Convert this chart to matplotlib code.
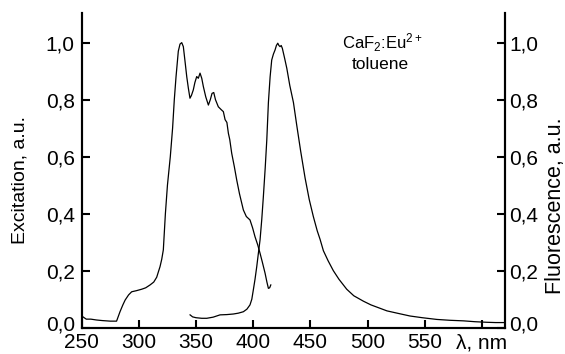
import matplotlib
matplotlib.use("Agg")
import matplotlib.pyplot as plt
from matplotlib.transforms import ScaledTranslation

plt.rcParams['font.family'] = ['Liberation Sans', 'DejaVu Sans']
plt.rcParams['mathtext.fontset'] = 'custom'
plt.rcParams['mathtext.rm'] = 'Liberation Sans'
plt.rcParams['mathtext.it'] = 'Liberation Sans'

# Excitation spectrum (wavelength nm, intensity a.u.)
exc_wl = [250, 254, 258, 263, 268, 275, 280.5, 283.5, 286, 288, 291, 293.7, 298,
          302.5, 306, 309.8, 313, 315.6, 317, 318.5, 320, 321.4, 323.2, 325, 327.5,
          329.5, 331, 332.5, 334.5, 336, 337.5, 338.9, 340.5, 341.9, 343.3, 344.7,
          346, 347.6, 349, 350.6, 352, 353.5, 355, 356.4, 358.5, 360.8, 362.5, 364,
          365.5, 367, 369.5, 372, 373.9, 375.4, 377, 378.3, 379.5, 381.2, 383.5,
          385.6, 388, 391.4, 394, 397.2, 399.5, 401.6, 404, 406, 408, 410.4, 412,
          413.3, 414.4, 415.4]
exc_val = [0.041, 0.030, 0.030, 0.027, 0.025, 0.023, 0.023, 0.056, 0.080, 0.097,
           0.115, 0.126, 0.130, 0.135, 0.140, 0.150, 0.160, 0.177, 0.195, 0.214,
           0.240, 0.273, 0.400, 0.500, 0.600, 0.700, 0.800, 0.880, 0.970, 0.995,
           1.000, 0.986, 0.930, 0.880, 0.840, 0.805, 0.815, 0.834, 0.860, 0.881,
           0.875, 0.893, 0.875, 0.846, 0.810, 0.781, 0.800, 0.822, 0.825, 0.800,
           0.775, 0.765, 0.758, 0.730, 0.720, 0.682, 0.660, 0.612, 0.565, 0.518,
           0.470, 0.413, 0.390, 0.378, 0.350, 0.319, 0.290, 0.261, 0.230, 0.191,
           0.160, 0.138, 0.140, 0.150]

# Fluorescence spectrum (wavelength nm, intensity a.u.)
flu_wl = [344.8, 347, 350, 355, 359.4, 365, 371, 377, 382.6, 387, 391.4, 394.5,
          397.2, 398.8, 400.1, 401.6, 403.1, 404.5, 406, 407.5, 408.9, 410.5, 411.9,
          413.3, 414.8, 416.2, 417.7, 419.1, 420.3, 421.5, 422.5, 423.5, 424.5,
          425.5, 427.5, 429.4, 432, 435.2, 438.1, 441.5, 445.4, 449, 452.6, 456,
          458.5, 461.4, 465.5, 470.1, 475, 481.8, 488, 496.4, 503, 511, 517, 527,
          537.2, 548, 560.6, 572, 584, 594, 604.4, 612, 619]
flu_val = [0.045, 0.038, 0.035, 0.033, 0.033, 0.037, 0.045, 0.046, 0.048, 0.051,
           0.056, 0.065, 0.080, 0.100, 0.132, 0.170, 0.214, 0.260, 0.308, 0.380,
           0.460, 0.560, 0.659, 0.790, 0.880, 0.939, 0.960, 0.974, 0.990, 0.998,
           0.990, 0.986, 0.990, 0.980, 0.945, 0.910, 0.850, 0.790, 0.710, 0.620,
           0.525, 0.450, 0.390, 0.340, 0.310, 0.270, 0.235, 0.200, 0.170, 0.135,
           0.112, 0.093, 0.080, 0.068, 0.059, 0.050, 0.041, 0.035, 0.029, 0.026,
           0.024, 0.021, 0.019, 0.018, 0.018]

x_ticks = [250, 300, 350, 400, 450, 500, 550, 600]
x_tick_labels = ['250', '300', '350', '400', '450', '500', '550', 'λ, nm']
y_ticks = [0.0, 0.2, 0.4, 0.6, 0.8, 1.0]
y_tick_labels = ['0,0', '0,2', '0,4', '0,6', '0,8', '1,0']

fig = plt.figure(figsize=(5.65, 3.54), dpi=100)
ax = fig.add_axes([0.1446, 0.0743, 0.7487, 0.889])
ax2 = ax.twinx()

ax.plot(exc_wl, exc_val, color='black', lw=0.9)
ax2.plot(flu_wl, flu_val, color='black', lw=0.9)

for a in (ax, ax2):
    a.set_xlim(250, 620)
    a.set_ylim(0, 1.104)
    a.spines['top'].set_visible(False)
    for s in ('left', 'right', 'bottom'):
        a.spines[s].set_linewidth(1.5)

ax.set_xticks(x_ticks)
ax.set_xticklabels(x_tick_labels)
ax.set_yticks(y_ticks)
ax.set_yticklabels(y_tick_labels)
ax2.set_yticks(y_ticks)
ax2.set_yticklabels(y_tick_labels)

ax.tick_params(axis='x', direction='in', length=6, width=1.5, labelsize=15, pad=4)
ax.tick_params(axis='y', direction='in', length=6, width=1.5, labelsize=15, pad=5)
ax2.tick_params(axis='y', direction='in', length=6, width=1.5, labelsize=15, pad=3)

# lift the "0,0" labels slightly, as in the original
shift = ScaledTranslation(0, 5 / 100, fig.dpi_scale_trans)
for lbl in (ax.get_yticklabels()[0], ax2.get_yticklabels()[0]):
    lbl.set_transform(lbl.get_transform() + shift)

ax.set_ylabel('Excitation, a.u.', fontsize=14, va='center')
ax.yaxis.set_label_coords(-0.146, 0.469)
ax2.set_ylabel('Fluorescence, a.u.', fontsize=15.5, va='center', rotation=90)
ax2.yaxis.set_label_coords(1.119, 0.387)

ax.text(0.711, 0.905, r'CaF$_2$:Eu$^{2+}$', fontsize=12, ha='center', va='center',
        transform=ax.transAxes)
ax.text(0.706, 0.835, 'toluene', fontsize=12.5, ha='center', va='center',
        transform=ax.transAxes)

fig.savefig('out.png', dpi=100)
